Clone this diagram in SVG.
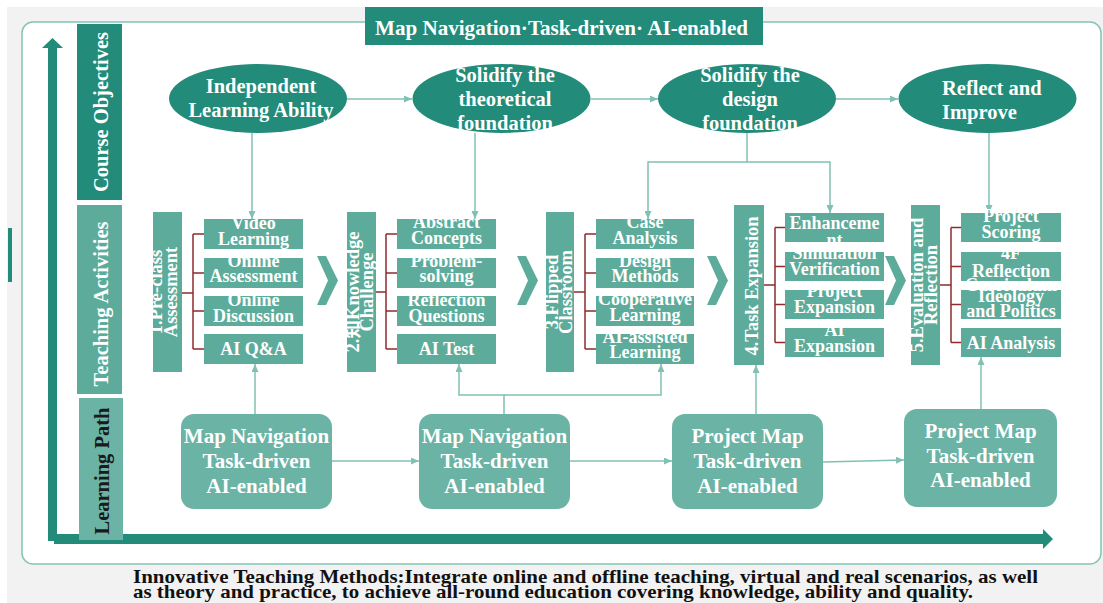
<svg xmlns="http://www.w3.org/2000/svg" width="1103" height="603" viewBox="0 0 1103 603">
  <style>
    text { font-family: "Liberation Serif", "Times New Roman", "Noto Sans CJK SC", serif; font-weight: bold; }
    .dark { fill: #228b79; }
    .mid { fill: #5dac9b; }
    .light { fill: #6bb3a5; }
    .side { font-size: 20.5px; }
    .goal { font-size: 20.5px; fill: #ffffff; }
    .stage { font-size: 18.5px; fill: #ffffff; }
    .item { font-size: 18px; fill: #ffffff; text-anchor: middle; }
    .path { font-size: 21px; fill: #ffffff; text-anchor: middle; }
    .conn { fill: none; stroke: #80c1b3; stroke-width: 1.5; }
    .brace { fill: none; stroke: #8e2b2e; stroke-width: 1.5; }
  </style>
  <defs>
    <marker id="arr" markerUnits="userSpaceOnUse" markerWidth="8" markerHeight="7" refX="8" refY="3.5" orient="auto">
      <path d="M0,0 L8,3.5 L0,7 z" fill="#80c1b3"/>
    </marker>
    <polygon id="chev" points="0,0 9,0 21,24.5 9,49 0,49 11,24.5" fill="#5dac9b"/>
  </defs>

  <!-- page background -->
  <rect width="1103" height="603" fill="#ffffff"/>
  <rect x="7" y="7" width="1096" height="596" fill="#f2f2f2"/>
  <rect x="8" y="228" width="4" height="54" class="dark"/>

  <!-- main frame -->
  <rect x="22" y="22" width="1079" height="542" rx="11" fill="#ffffff" stroke="#84c3b5" stroke-width="1.5"/>

  <!-- axes -->
  <g id="axes" fill="#228b79">
    <rect x="48" y="46" width="9" height="495"/>
    <polygon points="42,48 52.5,38 63,48"/>
    <rect x="54" y="534" width="990" height="10"/>
    <polygon points="1043,529 1053,539 1043,549"/>
  </g>

  <!-- title -->
  <g id="title">
    <rect x="365" y="7" width="398" height="38" class="dark"/>
    <text x="375" y="35" font-size="21" fill="#ffffff" textLength="373" lengthAdjust="spacingAndGlyphs">Map Navigation·Task-driven·  AI-enabled</text>
  </g>

  <!-- row labels -->
  <g id="row-objectives">
    <rect x="77" y="24" width="45" height="176" class="dark"/>
    <text class="side" fill="#ffffff" text-anchor="middle" transform="translate(101,112) rotate(-90)" y="7">Course Objectives</text>
  </g>
  <g id="row-activities">
    <rect x="77" y="205" width="45" height="189" class="mid"/>
    <text class="side" fill="#ffffff" text-anchor="middle" transform="translate(101,304) rotate(-90)" y="7">Teaching Activities</text>
  </g>
  <g id="row-path">
    <rect x="79" y="398" width="44" height="142" class="light"/>
    <text class="side" fill="#1a1a1a" text-anchor="middle" transform="translate(102,471) rotate(-90)" y="7">Learning Path</text>
  </g>

  <!-- connectors -->
  <g id="connectors">
    <line class="conn" x1="347" y1="99" x2="412" y2="99" marker-end="url(#arr)"/>
    <line class="conn" x1="591" y1="99" x2="658" y2="99" marker-end="url(#arr)"/>
    <line class="conn" x1="836" y1="99" x2="898" y2="99" marker-end="url(#arr)"/>
    <line class="conn" x1="252" y1="133" x2="252" y2="219" marker-end="url(#arr)"/>
    <line class="conn" x1="475" y1="133" x2="475" y2="219" marker-end="url(#arr)"/>
    <path class="conn" d="M747,133 V162 H648 V219" marker-end="url(#arr)"/>
    <path class="conn" d="M747,162 H830 V213" marker-end="url(#arr)"/>
    <line class="conn" x1="989" y1="133" x2="989" y2="213" marker-end="url(#arr)"/>
    <line class="conn" x1="255" y1="414" x2="255" y2="364" marker-end="url(#arr)"/>
    <path class="conn" d="M504,414 V395 H459 V364" marker-end="url(#arr)"/>
    <path class="conn" d="M504,395 H661 V364" marker-end="url(#arr)"/>
    <line class="conn" x1="756" y1="414" x2="756" y2="365" marker-end="url(#arr)"/>
    <line class="conn" x1="981" y1="409" x2="981" y2="357" marker-end="url(#arr)"/>
    <line class="conn" x1="332" y1="461" x2="419" y2="461" marker-end="url(#arr)"/>
    <line class="conn" x1="570" y1="461" x2="672" y2="461" marker-end="url(#arr)"/>
    <line class="conn" x1="823" y1="462" x2="904" y2="460" marker-end="url(#arr)"/>
  </g>

  <!-- course objectives -->
  <g id="goal-1">
    <ellipse cx="258" cy="98.5" rx="89" ry="34.5" class="dark"/>
    <text class="goal" text-anchor="middle" x="261" y="93">Independent</text>
    <text class="goal" text-anchor="middle" x="261" y="117">Learning Ability</text>
  </g>
  <g id="goal-2">
    <ellipse cx="501.5" cy="98.5" rx="89" ry="34.5" class="dark"/>
    <text class="goal" text-anchor="middle" x="505" y="82">Solidify the</text>
    <text class="goal" text-anchor="middle" x="505" y="106">theoretical</text>
    <text class="goal" text-anchor="middle" x="505" y="130">foundation</text>
  </g>
  <g id="goal-3">
    <ellipse cx="747" cy="98.5" rx="89" ry="34.5" class="dark"/>
    <text class="goal" text-anchor="middle" x="750" y="82">Solidify the</text>
    <text class="goal" text-anchor="middle" x="750" y="106">design</text>
    <text class="goal" text-anchor="middle" x="750" y="130">foundation</text>
  </g>
  <g id="goal-4">
    <ellipse cx="987.5" cy="98.5" rx="89" ry="34.5" class="dark"/>
    <text class="goal" x="942" y="95">Reflect and</text>
    <text class="goal" x="942" y="119">Improve</text>
  </g>

  <!-- stage 1 -->
  <g id="stage-1">
    <rect x="153" y="212" width="29" height="160" class="mid"/>
    <g transform="translate(153,292) rotate(-90)">
      <text class="stage" text-anchor="middle" y="9" font-size="22.5">1.Pre-class</text>
      <text class="stage" text-anchor="middle" y="24" font-size="22.5">Assessment</text>
    </g>
    <path class="brace" d="M182,293 H193 M193,234 V349 M193,234 H204 M193,273 H204 M193,311 H204 M193,349 H204"/>
    <rect x="204" y="219" width="99" height="30" class="mid"/>
    <text class="item" x="253.5" y="229">Video</text><text class="item" x="253.5" y="245">Learning</text>
    <rect x="204" y="258" width="99" height="30" class="mid"/>
    <text class="item" x="253.5" y="267">Online</text><text class="item" x="253.5" y="282">Assessment</text>
    <rect x="204" y="296" width="99" height="30" class="mid"/>
    <text class="item" x="253.5" y="306">Online</text><text class="item" x="253.5" y="322">Discussion</text>
    <rect x="204" y="334" width="99" height="30" class="mid"/>
    <text class="item" x="253.5" y="355">AI Q&amp;A</text>
  </g>
  <use href="#chev" x="317" y="256"/>

  <!-- stage 2 -->
  <g id="stage-2">
    <rect x="347" y="212" width="29" height="160" class="mid"/>
    <g transform="translate(347,292) rotate(-90)">
      <text class="stage" text-anchor="middle" y="12">2.知Knowledge</text>
      <text class="stage" text-anchor="middle" y="26">Challenge</text>
    </g>
    <path class="brace" d="M376,292 H386 M386,234 V349 M386,234 H397 M386,273 H397 M386,311 H397 M386,349 H397"/>
    <rect x="397" y="219" width="99" height="30" class="mid"/>
    <text class="item" x="446.5" y="228">Abstract</text><text class="item" x="446.5" y="244">Concepts</text>
    <rect x="397" y="258" width="99" height="30" class="mid"/>
    <text class="item" x="446.5" y="267">Problem-</text><text class="item" x="446.5" y="282">solving</text>
    <rect x="397" y="296" width="99" height="30" class="mid"/>
    <text class="item" x="446.5" y="306">Reflection</text><text class="item" x="446.5" y="322">Questions</text>
    <rect x="397" y="334" width="99" height="30" class="mid"/>
    <text class="item" x="446.5" y="355">AI Test</text>
  </g>
  <use href="#chev" x="517" y="256"/>

  <!-- stage 3 -->
  <g id="stage-3">
    <rect x="546" y="212" width="28" height="160" class="mid"/>
    <g transform="translate(546,292) rotate(-90)">
      <text class="stage" text-anchor="middle" y="12">3.Flipped</text>
      <text class="stage" text-anchor="middle" y="26">Classroom</text>
    </g>
    <path class="brace" d="M574,292 H585 M585,234 V349 M585,234 H596 M585,273 H596 M585,311 H596 M585,349 H596"/>
    <rect x="596" y="219" width="98" height="30" class="mid"/>
    <text class="item" x="645" y="228">Case</text><text class="item" x="645" y="244">Analysis</text>
    <rect x="596" y="258" width="98" height="30" class="mid"/>
    <text class="item" x="645" y="267">Design</text><text class="item" x="645" y="282">Methods</text>
    <rect x="596" y="296" width="98" height="30" class="mid"/>
    <text class="item" x="645" y="305">Cooperative</text><text class="item" x="645" y="321">Learning</text>
    <rect x="596" y="334" width="98" height="30" class="mid"/>
    <text class="item" x="645" y="343">AI-assisted</text><text class="item" x="645" y="358">Learning</text>
  </g>
  <use href="#chev" x="707" y="256"/>

  <!-- stage 4 -->
  <g id="stage-4">
    <rect x="734" y="205" width="30" height="160" class="mid"/>
    <g transform="translate(734,286) rotate(-90)">
      <text class="stage" text-anchor="middle" y="24">4.Task Expansion</text>
    </g>
    <path class="brace" d="M764,285 H775 M775,227.5 V342.5 M775,227.5 H785 M775,266.5 H785 M775,304.5 H785 M775,342.5 H785"/>
    <rect x="785" y="213" width="99" height="29" class="mid"/>
    <text class="item" x="834.5" y="229">Enhanceme</text><text class="item" x="834.5" y="246">nt</text>
    <rect x="785" y="252" width="99" height="29" class="mid"/>
    <text class="item" x="834.5" y="259">Simulation</text><text class="item" x="834.5" y="275">Verification</text>
    <rect x="785" y="290" width="99" height="29" class="mid"/>
    <text class="item" x="834.5" y="297">Project</text><text class="item" x="834.5" y="313">Expansion</text>
    <rect x="785" y="328" width="99" height="29" class="mid"/>
    <text class="item" x="834.5" y="336">AI</text><text class="item" x="834.5" y="352">Expansion</text>
  </g>
  <use href="#chev" x="885" y="256"/>

  <!-- stage 5 -->
  <g id="stage-5">
    <rect x="911" y="205" width="29" height="160" class="mid"/>
    <g transform="translate(911,285) rotate(-90)">
      <text class="stage" text-anchor="middle" y="12">5.Evaluation and</text>
      <text class="stage" text-anchor="middle" y="26">Reflection</text>
    </g>
    <path class="brace" d="M940,285 H951 M951,227.5 V342.5 M951,227.5 H961 M951,266.5 H961 M951,304.5 H961 M951,342.5 H961"/>
    <rect x="961" y="213" width="100" height="29" class="mid"/>
    <text class="item" x="1011" y="222">Project</text><text class="item" x="1011" y="238">Scoring</text>
    <rect x="961" y="252" width="100" height="29" class="mid"/>
    <text class="item" x="1011" y="259">4F</text><text class="item" x="1011" y="277">Reflection</text>
    <rect x="961" y="290" width="100" height="29" class="mid"/>
    <text class="item" x="1011" y="291">Curriculum</text><text class="item" x="1011" y="302">Ideology</text><text class="item" x="1011" y="317">and Politics</text>
    <rect x="961" y="328" width="100" height="29" class="mid"/>
    <text class="item" x="1011" y="349">AI Analysis</text>
  </g>

  <!-- learning path -->
  <g id="path-1">
    <rect x="181" y="414" width="151" height="95" rx="13" class="light"/>
    <text class="path" x="256.5" y="443">Map Navigation</text>
    <text class="path" x="256.5" y="468">Task-driven</text>
    <text class="path" x="256.5" y="493">AI-enabled</text>
  </g>
  <g id="path-2">
    <rect x="419" y="414" width="151" height="95" rx="13" class="light"/>
    <text class="path" x="494.5" y="443">Map Navigation</text>
    <text class="path" x="494.5" y="468">Task-driven</text>
    <text class="path" x="494.5" y="493">AI-enabled</text>
  </g>
  <g id="path-3">
    <rect x="672" y="414" width="151" height="95" rx="13" class="light"/>
    <text class="path" x="747.5" y="443">Project Map</text>
    <text class="path" x="747.5" y="468">Task-driven</text>
    <text class="path" x="747.5" y="493">AI-enabled</text>
  </g>
  <g id="path-4">
    <rect x="904" y="409" width="153" height="98" rx="13" class="light"/>
    <text class="path" x="980.5" y="438">Project Map</text>
    <text class="path" x="980.5" y="463">Task-driven</text>
    <text class="path" x="980.5" y="487">AI-enabled</text>
  </g>

  <!-- caption -->
  <g id="caption" font-size="19.5" fill="#111111">
    <text x="133" y="583" textLength="905" lengthAdjust="spacingAndGlyphs">Innovative Teaching Methods:Integrate online and offline teaching, virtual and real scenarios, as well</text>
    <text x="133" y="598" textLength="840" lengthAdjust="spacingAndGlyphs">as theory and practice, to achieve all-round education covering knowledge, ability and quality.</text>
  </g>
</svg>
